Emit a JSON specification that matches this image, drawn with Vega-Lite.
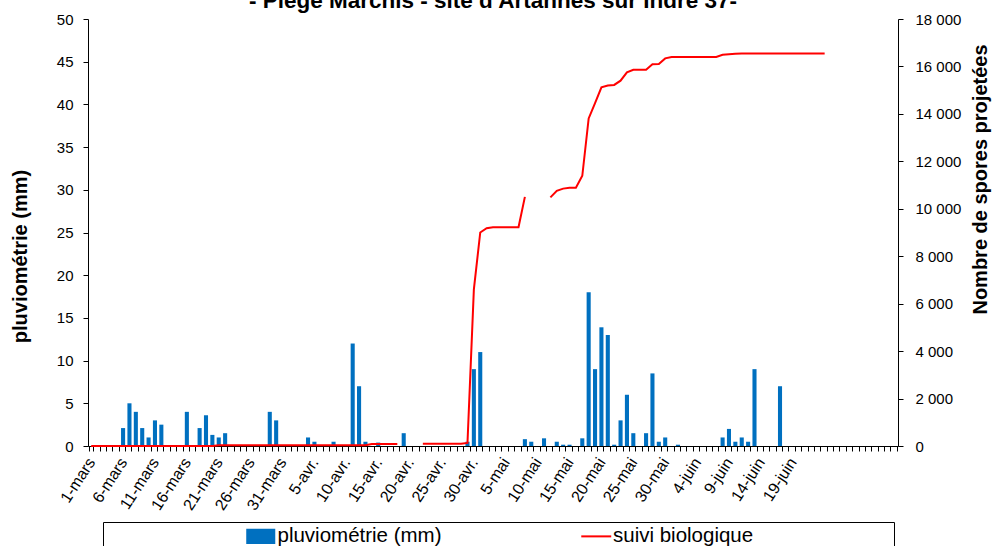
{
  "$schema": "https://vega.github.io/schema/vega-lite/v6.json",
  "width": 810,
  "height": 427,
  "autosize": {"type": "none"},
  "padding": {"left": 88, "top": 19, "right": 97, "bottom": 100},
  "background": "white",
  "title": {
    "text": "- Piège Marchis - site d'Artannes sur Indre 37-",
    "font": "Liberation Sans",
    "fontSize": 22.5,
    "fontWeight": "bold",
    "color": "black",
    "anchor": "middle",
    "frame": "group",
    "baseline": "alphabetic",
    "offset": -18
  },
  "data": {"values": [
    {"j":"1-mars","p":0,"s":0},{"j":"2-mars","p":0,"s":0},{"j":"3-mars","p":0,"s":0},{"j":"4-mars","p":0,"s":0},{"j":"5-mars","p":0,"s":0},
    {"j":"6-mars","p":2.1,"s":0},{"j":"7-mars","p":5.0,"s":0},{"j":"8-mars","p":4.0,"s":0},{"j":"9-mars","p":2.1,"s":0},{"j":"10-mars","p":1.0,"s":0},
    {"j":"11-mars","p":3.0,"s":0},{"j":"12-mars","p":2.5,"s":0},{"j":"13-mars","p":0,"s":0},{"j":"14-mars","p":0,"s":0},{"j":"15-mars","p":0,"s":0},
    {"j":"16-mars","p":4.0,"s":0},{"j":"17-mars","p":0,"s":0},{"j":"18-mars","p":2.1,"s":0},{"j":"19-mars","p":3.6,"s":0},{"j":"20-mars","p":1.3,"s":0},
    {"j":"21-mars","p":1.0,"s":30},{"j":"22-mars","p":1.5,"s":30},{"j":"23-mars","p":0,"s":30},{"j":"24-mars","p":0,"s":30},{"j":"25-mars","p":0,"s":30},
    {"j":"26-mars","p":0,"s":30},{"j":"27-mars","p":0,"s":30},{"j":"28-mars","p":0,"s":30},{"j":"29-mars","p":4.0,"s":30},{"j":"30-mars","p":3.0,"s":30},
    {"j":"31-mars","p":0,"s":30},
    {"j":"1-avr.","p":0,"s":30},{"j":"2-avr.","p":0,"s":30},{"j":"3-avr.","p":0,"s":30},{"j":"4-avr.","p":1.0,"s":30},{"j":"5-avr.","p":0.5,"s":30},
    {"j":"6-avr.","p":0,"s":30},{"j":"7-avr.","p":0,"s":30},{"j":"8-avr.","p":0.5,"s":30},{"j":"9-avr.","p":0,"s":30},{"j":"10-avr.","p":0,"s":30},
    {"j":"11-avr.","p":12.0,"s":30},{"j":"12-avr.","p":7.0,"s":30},{"j":"13-avr.","p":0.5,"s":30},{"j":"14-avr.","p":0,"s":80},{"j":"15-avr.","p":0.4,"s":80},
    {"j":"16-avr.","p":0,"s":80},{"j":"17-avr.","p":0,"s":80},{"j":"18-avr.","p":0,"s":80},{"j":"19-avr.","p":1.5,"s":null},{"j":"20-avr.","p":0,"s":null},
    {"j":"21-avr.","p":0,"s":null},{"j":"22-avr.","p":0,"s":100},{"j":"23-avr.","p":0,"s":100},{"j":"24-avr.","p":0,"s":100},{"j":"25-avr.","p":0,"s":100},
    {"j":"26-avr.","p":0,"s":100},{"j":"27-avr.","p":0,"s":100},{"j":"28-avr.","p":0,"s":100},{"j":"29-avr.","p":0.5,"s":130},{"j":"30-avr.","p":9.0,"s":6600},
    {"j":"1-mai","p":11.0,"s":9000},{"j":"2-mai","p":0,"s":9180},{"j":"3-mai","p":0,"s":9220},{"j":"4-mai","p":0,"s":9220},{"j":"5-mai","p":0,"s":9220},
    {"j":"6-mai","p":0,"s":9220},{"j":"7-mai","p":0,"s":9220},{"j":"8-mai","p":0.8,"s":10500},{"j":"9-mai","p":0.5,"s":null},{"j":"10-mai","p":0,"s":null},
    {"j":"11-mai","p":0.9,"s":null},{"j":"12-mai","p":0,"s":10480},{"j":"13-mai","p":0.5,"s":10760},{"j":"14-mai","p":0.15,"s":10850},{"j":"15-mai","p":0.15,"s":10890},
    {"j":"16-mai","p":0,"s":10890},{"j":"17-mai","p":0.9,"s":11390},{"j":"18-mai","p":18.0,"s":13810},{"j":"19-mai","p":9.0,"s":14450},{"j":"20-mai","p":13.9,"s":15120},
    {"j":"21-mai","p":13.0,"s":15200},{"j":"22-mai","p":0.15,"s":15220},{"j":"23-mai","p":3.0,"s":15400},{"j":"24-mai","p":6.0,"s":15750},{"j":"25-mai","p":1.5,"s":15860},
    {"j":"26-mai","p":0,"s":15860},{"j":"27-mai","p":1.5,"s":15860},{"j":"28-mai","p":8.5,"s":16090},{"j":"29-mai","p":0.5,"s":16100},{"j":"30-mai","p":1.0,"s":16340},
    {"j":"31-mai","p":0,"s":16400},
    {"j":"1-juin","p":0.15,"s":16400},{"j":"2-juin","p":0,"s":16400},{"j":"3-juin","p":0,"s":16400},{"j":"4-juin","p":0,"s":16400},{"j":"5-juin","p":0,"s":16400},
    {"j":"6-juin","p":0,"s":16400},{"j":"7-juin","p":0,"s":16400},{"j":"8-juin","p":1.0,"s":16490},{"j":"9-juin","p":2.0,"s":16510},{"j":"10-juin","p":0.5,"s":16530},
    {"j":"11-juin","p":1.0,"s":16550},{"j":"12-juin","p":0.5,"s":16550},{"j":"13-juin","p":9.0,"s":16550},{"j":"14-juin","p":0,"s":16550},{"j":"15-juin","p":0,"s":16550},
    {"j":"16-juin","p":0,"s":16550},{"j":"17-juin","p":7.0,"s":16550},{"j":"18-juin","p":0,"s":16550},{"j":"19-juin","p":0,"s":16550},{"j":"20-juin","p":0,"s":16550},
    {"j":"21-juin","p":0,"s":16550},{"j":"22-juin","p":0,"s":16550},{"j":"23-juin","p":0,"s":16550},{"j":"24-juin","p":0,"s":16550},{"j":"25-juin","p":0,"s":null},
    {"j":"26-juin","p":0,"s":null},{"j":"27-juin","p":0,"s":null},{"j":"28-juin","p":0,"s":null},{"j":"29-juin","p":0,"s":null},{"j":"30-juin","p":0,"s":null},
    {"j":"1-juil.","p":0,"s":null},{"j":"2-juil.","p":0,"s":null},{"j":"3-juil.","p":0,"s":null},{"j":"4-juil.","p":0,"s":null},{"j":"5-juil.","p":0,"s":null}
  ]},
  "encoding": {
    "x": {
      "field": "j",
      "type": "ordinal",
      "sort": null,
      "scale": {"paddingInner": 0.36, "paddingOuter": 0.18},
      "axis": {
        "title": null,
        "tickBand": "extent",
        "tickSize": 5,
        "tickColor": "black",
        "domainColor": "black",
        "labelAngle": -57,
        "labelExpr": "(round(datum.index*126) % 5 == 0 && round(datum.index*126) <= 110) ? datum.label : ''",
        "labelFont": "Liberation Sans",
        "labelFontSize": 16,
        "labelColor": "black",
        "labelPadding": 8,
        "labelOverlap": false,
        "labelBound": false
      }
    }
  },
  "layer": [
    {
      "mark": {"type": "bar"},
      "encoding": {
        "y": {
          "field": "p",
          "type": "quantitative",
          "scale": {"domain": [0, 50]},
          "axis": {
            "title": "pluviométrie (mm)",
            "values": [0, 5, 10, 15, 20, 25, 30, 35, 40, 45, 50],
            "grid": false,
            "tickSize": 5,
            "tickColor": "black",
            "domainColor": "black",
            "labelFont": "Liberation Sans",
            "labelFontSize": 15,
            "labelColor": "black",
            "labelPadding": 10,
            "titleFont": "Liberation Sans",
            "titleFontSize": 20,
            "titleFontWeight": "bold",
            "titleColor": "black",
            "titlePadding": 26,
            "titleY": 237
          }
        },
        "color": {
          "datum": "pluviométrie (mm)",
          "scale": {"domain": ["pluviométrie (mm)", "suivi biologique"], "range": ["#0070C0", "#FF0000"]},
          "legend": {
            "orient": "none",
            "legendX": 15,
            "legendY": 503,
            "direction": "horizontal",
            "title": null,
            "strokeColor": "black",
            "padding": 4,
            "symbolOffset": 143.5,
            "columnPadding": 0.5,
            "labelOffset": 6.5,
            "labelFont": "Liberation Sans",
            "labelFontSize": 20.5,
            "labelColor": "black",
            "labelLimit": 800,
            "symbolSize": 196,
            "labelExpr": "datum.value == 'suivi biologique' ? datum.label + '\u00a0\u00a0\u00a0\u00a0\u00a0\u00a0\u00a0\u00a0\u00a0\u00a0\u00a0\u00a0\u00a0\u00a0\u00a0\u00a0\u00a0\u00a0\u00a0\u00a0\u00a0\u00a0\u00a0\u00a0\u200b' : datum.label",
            "encode": {
              "symbols": {
                "update": {
                  "shape": {"signal": "datum.value == 'suivi biologique' ? 'M-2.14,0H2.14' : 'M-1.93,-0.93H1.93V0.93H-1.93Z'"},
                  "fill": {"signal": "datum.value == 'suivi biologique' ? 'transparent' : '#0070C0'"},
                  "stroke": {"signal": "datum.value == 'suivi biologique' ? '#FF0000' : 'transparent'"},
                  "strokeWidth": {"value": 2},
                  "opacity": {"value": 1}
                }
              }
            }
          }
        }
      }
    },
    {
      "mark": {"type": "line", "strokeWidth": 2, "invalid": "break-paths-show-domains"},
      "encoding": {
        "y": {
          "field": "s",
          "type": "quantitative",
          "scale": {"domain": [0, 18000]},
          "axis": {
            "orient": "right",
            "title": "Nombre de spores projetées",
            "values": [0, 2000, 4000, 6000, 8000, 10000, 12000, 14000, 16000, 18000],
            "labelExpr": "datum.value >= 1000 ? floor(datum.value/1000) + ' 000' : datum.label",
            "grid": false,
            "tickSize": 5,
            "tickColor": "black",
            "domainColor": "black",
            "labelFont": "Liberation Sans",
            "labelFontSize": 15,
            "labelColor": "black",
            "labelPadding": 12,
            "titleFont": "Liberation Sans",
            "titleFontSize": 20,
            "titleFontWeight": "bold",
            "titleColor": "black",
            "titleAngle": 270,
            "titlePadding": 30,
            "titleY": 160
          }
        },
        "color": {"datum": "suivi biologique"}
      }
    }
  ],
  "resolve": {"scale": {"y": "independent"}},
  "config": {
    "view": {"stroke": null},
    "font": "Liberation Sans"
  }
}
